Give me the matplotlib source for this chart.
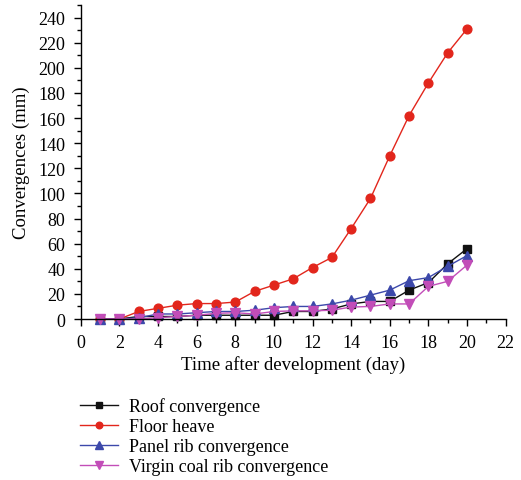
import matplotlib
matplotlib.use("Agg")
import matplotlib.pyplot as plt
from matplotlib.ticker import MultipleLocator

plt.rcParams['font.family'] = ['Liberation Serif', 'DejaVu Serif']

days = list(range(1, 21))
roof = [0, 0, 2, 2, 2, 3, 3, 3, 3, 3, 6, 6, 8, 12, 14, 14, 23, 29, 44, 56]
floor = [0, 0, 6, 8.5, 11, 12.3, 12.3, 13.5, 22, 27, 32, 41, 49, 72, 96, 130, 162, 188, 212, 231]
panel = [0, 0, 1, 4, 4, 5, 6, 6, 7, 9, 10, 10, 12, 15, 19, 23, 30.5, 33, 42, 50.5]
virgin = [0, 0, 0, 1, 2, 3, 4.5, 5, 4, 6, 6.5, 6.5, 7, 9.5, 10, 12, 12, 26, 30, 43]

labels = ["Roof convergence", "Floor heave", "Panel rib convergence", "Virgin coal rib convergence"]
colors = ["#111111", "#e2261c", "#3c48aa", "#c24db8"]
markers = ["s", "o", "^", "v"]
msizes = [5.5, 6.3, 7, 7]

fig = plt.figure(figsize=(5.21, 4.81), dpi=100)
ax = fig.add_axes([0.155, 0.3347, 0.8156, 0.6528])

for data, lab, c, m, ms in zip([roof, floor, panel, virgin], labels, colors, markers, msizes):
    ax.plot(days, data, color=c, marker=m, markersize=ms, linewidth=1.0,
            markeredgecolor=c, label=lab, clip_on=False)

ax.set_xlim(0, 22)
ax.set_ylim(0, 250)
ax.xaxis.set_major_locator(MultipleLocator(2))
ax.xaxis.set_minor_locator(MultipleLocator(1))
ax.yaxis.set_minor_locator(MultipleLocator(10))
ax.set_yticks(range(0, 241, 20))
for s in ["top", "right"]:
    ax.spines[s].set_visible(False)
for s in ["left", "bottom"]:
    ax.spines[s].set_linewidth(1.0)
ax.tick_params(which="major", direction="out", length=5, width=1.0, labelsize=13, pad=6)
ax.tick_params(which="minor", direction="out", length=3, width=1.0)
ax.set_xlabel("Time after development (day)", fontsize=13.5, labelpad=3)
ax.set_ylabel("Convergences (mm)", fontsize=13.5, labelpad=6)

handles, labs = ax.get_legend_handles_labels()
leg = fig.legend(handles, labs, loc="upper left", bbox_to_anchor=(73 / 521, 1 - 391 / 481),
                 frameon=False, fontsize=13, handlelength=2.1, labelspacing=0.17,
                 handletextpad=0.6, borderaxespad=0, markerscale=0.75)

fig.savefig("out.png", dpi=100)
